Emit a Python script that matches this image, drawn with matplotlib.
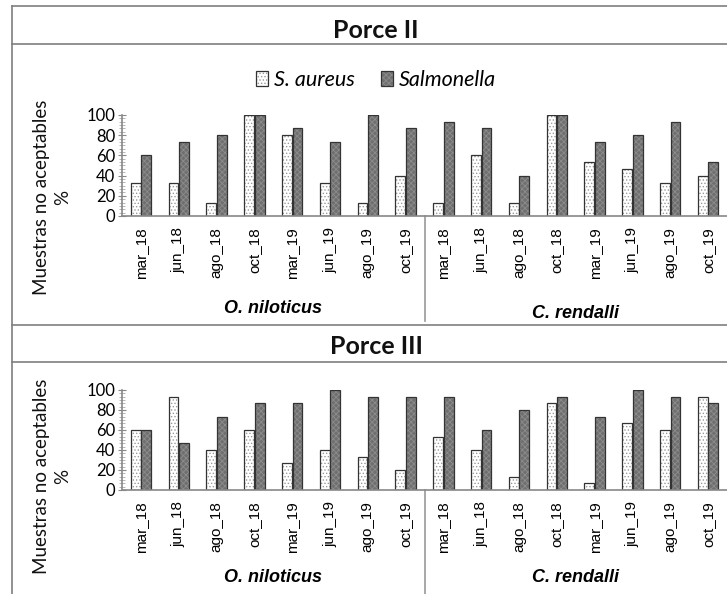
import numpy as np
import matplotlib
matplotlib.use('Agg')
from matplotlib import pyplot as plt
from matplotlib.lines import Line2D
from matplotlib.ticker import MultipleLocator, AutoMinorLocator
import matplotlib.transforms as mtransforms

plt.rcParams['hatch.linewidth'] = 0.6

W, H = 727, 594  # tamaño en píxeles

months = ['mar_18', 'jun_18', 'ago_18', 'oct_18', 'mar_19', 'jun_19', 'ago_19', 'oct_19']
species = ['O. niloticus', 'C. rendalli']
labels = months + months

# Porce II
p2_aureus = [33, 33, 13, 100, 80, 33, 13, 40,
             13, 60, 13, 100, 53, 47, 33, 40]
p2_salmonella = [60, 73, 80, 100, 87, 73, 100, 87,
                 93, 87, 40, 100, 73, 80, 93, 53]

# Porce III
p3_aureus = [60, 93, 40, 60, 27, 40, 33, 20,
             53, 40, 13, 87, 7, 67, 60, 93]
p3_salmonella = [60, 47, 73, 87, 87, 100, 93, 93,
                 93, 60, 80, 93, 73, 100, 93, 87]

panels = [('Porce II', p2_aureus, p2_salmonella),
          ('Porce III', p3_aureus, p3_salmonella)]

fig = plt.figure(figsize=(W / 100, H / 100), dpi=100)


def px(x, y):
    return x / W, 1 - y / H


def hline(y, x0=12, x1=W):
    fig.add_artist(Line2D([x0 / W, x1 / W], [1 - y / H, 1 - y / H],
                          transform=fig.transFigure, color='#7f7f7f', lw=1.2))


# marco de la figura
hline(6)
hline(44)
hline(325)
hline(362)
fig.add_artist(Line2D([12 / W, 12 / W], [1 - 6 / H, 0], transform=fig.transFigure,
                      color='#7f7f7f', lw=1.2))

# posiciones de los ejes (píxeles: y del 0, y del 100, y del título, y de especies, y de etiqueta)
axes_px = [(216, 115, 31, (308, 313), 197), (490, 390, 347, (577, 578), 476)]
x_left, x_right = 122, 727

x = np.arange(len(labels))
bw = 0.26
off = 0.14

for (title, sa, sal), (y0, y100, ty, gy, ly) in zip(panels, axes_px):
    l, b = px(x_left, y0)
    ax = fig.add_axes([l, b, (x_right - x_left) / W, (y0 - y100) / H])

    fig.text(*px(376, ty), title, ha='center', va='center', fontsize=18,
             fontweight='bold', family='Lato', color='#111111')

    # S. aureus: blanco punteado
    b1 = ax.bar(x - off, sa, bw, color='white', hatch='.....', edgecolor='#9a9a9a', lw=0)
    b1e = ax.bar(x - off, sa, bw, fill=False, edgecolor='#333333', lw=0.9)
    # Salmonella: gris con textura
    b2 = ax.bar(x + off, sal, bw, color='#6f6f6f', hatch='xxxxxx', edgecolor='#8c8c8c', lw=0)
    b2e = ax.bar(x + off, sal, bw, fill=False, edgecolor='#333333', lw=0.9)

    ax.set_xlim(-0.5, len(labels) - 0.5)
    ax.set_ylim(0, 100)
    ax.yaxis.set_major_locator(MultipleLocator(20))
    ax.yaxis.set_minor_locator(AutoMinorLocator(6))
    ax.set_xticks(x)
    ax.set_xticklabels(labels, rotation=90, fontsize=11, family='Liberation Sans')
    for t in ax.get_yticklabels():
        t.set_family('Lato')
        t.set_fontsize(12)
    ax.tick_params(axis='x', length=0, pad=8)
    ax.tick_params(axis='y', which='major', length=6, direction='inout', color='#888888', pad=2)
    ax.tick_params(axis='y', which='minor', length=5, direction='inout', color='#aaaaaa')
    for s in ['top', 'right']:
        ax.spines[s].set_visible(False)
    ax.spines['left'].set_color('#888888')
    ax.spines['bottom'].set_color('#888888')
    ax.spines['left'].set_linewidth(1.2)
    ax.spines['bottom'].set_linewidth(1.2)
    ax.patch.set_alpha(0)

    # etiqueta del eje y
    ax.text((52 - x_left) / (x_right - x_left), (y0 - ly) / (y0 - y100),
            'Muestras no aceptables\n%', transform=ax.transAxes, rotation=90,
            ha='center', va='center', multialignment='center', fontsize=13.5,
            family='Lato', linespacing=1.25, color='#111111')

    # separador y nombres de especie
    trans = mtransforms.blended_transform_factory(ax.transData, ax.transAxes)
    ax.plot([7.5, 7.5], [0, -1.04], transform=trans, color='#999999', lw=1.2, clip_on=False)
    for i, name in enumerate(species):
        yy = -(gy[i] - y0) / (y0 - y100)
        ax.text(3.5 + 8 * i, yy, name, transform=trans, ha='center', va='center',
                fontsize=13, fontweight='bold', fontstyle='italic', family='Liberation Sans')

    if title == 'Porce II':
        fig.legend([(b1[0], b1e[0]), (b2[0], b2e[0])], ['S. aureus', 'Salmonella'],
                   loc='center', bbox_to_anchor=px(376, 80), ncol=2, frameon=False,
                   prop={'family': 'Lato', 'style': 'italic', 'size': 15.5},
                   handlelength=0.55, handleheight=0.75, handletextpad=0.3,
                   columnspacing=1.2)

plt.savefig('out.png', dpi=100)
